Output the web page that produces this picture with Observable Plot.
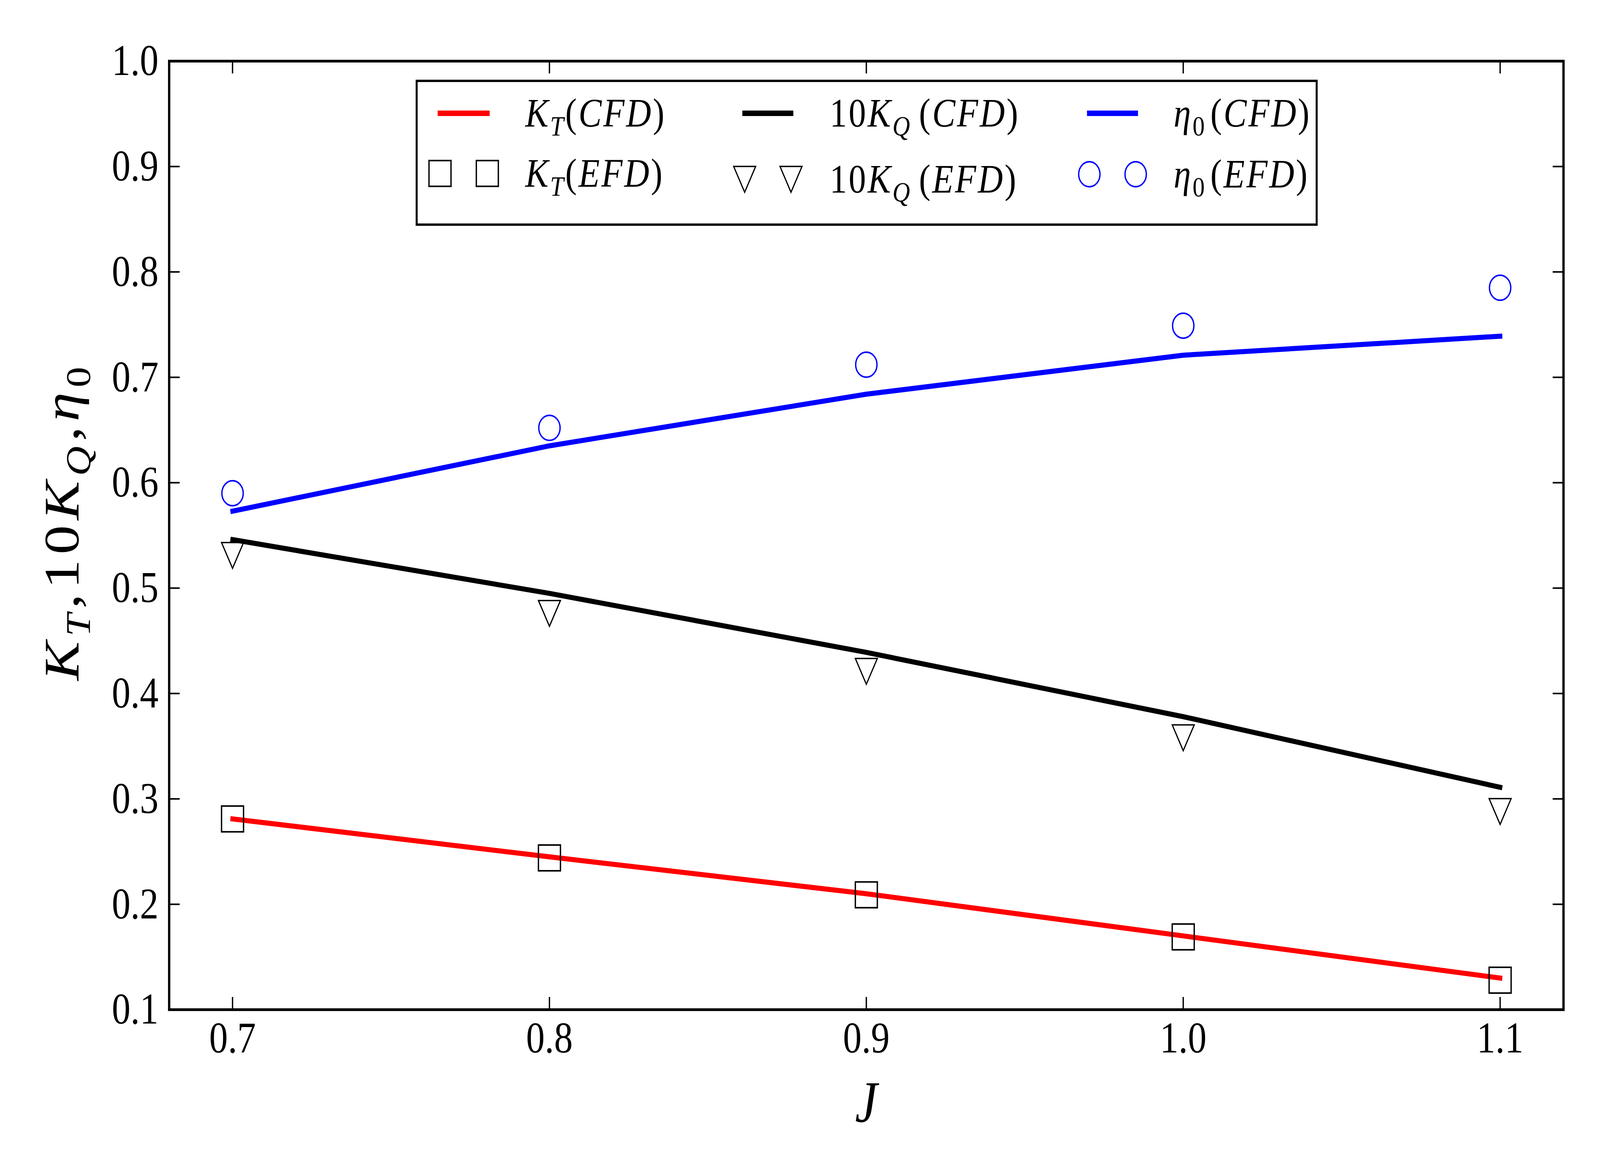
<!DOCTYPE html>
<html>
<head>
<meta charset="utf-8">
<script src="https://cdn.jsdelivr.net/npm/d3@7"></script>
<script src="https://cdn.jsdelivr.net/npm/@observablehq/plot@0.6"></script>
<style>
  html, body { margin: 0; padding: 0; background: #ffffff; overflow: hidden; width: 100%; height: 100%; }
  #chart { position: fixed; left: 0; top: 0; width: 100vw; height: 100vh; }
  #chart svg { display: block; width: 100vw !important; height: 100vh !important; max-width: none !important; }
</style>
</head>
<body>
<div id="chart"></div>
<script>
// ---------- data ----------
const J = [0.7, 0.8, 0.9, 1.0, 1.1];
const KT_CFD   = [0.281, 0.245, 0.210, 0.170, 0.130];
const KT_EFD   = [0.281, 0.244, 0.209, 0.169, 0.128];
const KQ10_CFD = [0.546, 0.495, 0.439, 0.378, 0.311];
const KQ10_EFD = [0.531, 0.476, 0.421, 0.358, 0.288];
const ETA_CFD  = [0.573, 0.635, 0.684, 0.721, 0.739];
const ETA_EFD  = [0.590, 0.652, 0.712, 0.749, 0.785];

const xTicks = [0.7, 0.8, 0.9, 1.0, 1.1];
const yTicks = [0.1, 0.2, 0.3, 0.4, 0.5, 0.6, 0.7, 0.8, 0.9, 1.0];
const xDomain = [0.68, 1.12];
const yDomain = [0.1, 1.0];

// ---------- layout ----------
const W = 4800, H = 3000;
const mL = 507, mR = 110, mT = 156, mB = 416;
const FONT = "'Liberation Serif', 'DejaVu Serif', serif";
const TICK_FS = 112;
const LABEL_FS = 150;
const LEG_FS = 104;
const TICK_LEN = 32;

const plotW = W - mL - mR, plotH = H - mT - mB;
const tickLenY = TICK_LEN * (yDomain[1] - yDomain[0]) / plotH;
const tickLenX = TICK_LEN * (xDomain[1] - xDomain[0]) / plotW;

// custom matplotlib-like symbols (size = pi r^2 -> half-width r)
const squareSym = { draw(ctx, size) { const h = Math.sqrt(size / Math.PI); ctx.rect(-h, -h, 2 * h, 2 * h); } };
const triDownSym = { draw(ctx, size) { const h = Math.sqrt(size / Math.PI); ctx.moveTo(0, h); ctx.lineTo(h, -h); ctx.lineTo(-h, -h); ctx.closePath(); } };

const lineStyle = { strokeWidth: 13, strokeLinecap: "square", strokeLinejoin: "round" };
const mk = { fill: "none", strokeWidth: 4 };

const svg = Plot.plot({
  width: W,
  height: H,
  marginLeft: mL, marginRight: mR, marginTop: mT, marginBottom: mB,
  style: { fontFamily: FONT, fontSize: TICK_FS + "px", background: "#ffffff", color: "black" },
  x: { domain: xDomain },
  y: { domain: yDomain },
  marks: [
    // inward ticks on all four sides
    Plot.ruleX(xTicks, { x: d => d, y1: yDomain[0], y2: yDomain[0] + tickLenY, stroke: "black", strokeWidth: 4 }),
    Plot.ruleX(xTicks, { x: d => d, y1: yDomain[1], y2: yDomain[1] - tickLenY, stroke: "black", strokeWidth: 4 }),
    Plot.ruleY(yTicks, { y: d => d, x1: xDomain[0], x2: xDomain[0] + tickLenX, stroke: "black", strokeWidth: 4 }),
    Plot.ruleY(yTicks, { y: d => d, x1: xDomain[1], x2: xDomain[1] - tickLenX, stroke: "black", strokeWidth: 4 }),
    // tick labels
    Plot.axisX({ ticks: xTicks, tickSize: 0, tickPadding: 30, tickFormat: d3.format(".1f"), fontSize: TICK_FS, fontFamily: FONT, label: null }),
    Plot.axisY({ ticks: yTicks, tickSize: 0, tickPadding: 32, tickFormat: d3.format(".1f"), fontSize: TICK_FS, fontFamily: FONT, label: null }),
    // CFD lines
    Plot.line(J, { x: J, y: KT_CFD, stroke: "#ff0000", ...lineStyle }),
    Plot.line(J, { x: J, y: KQ10_CFD, stroke: "#000000", ...lineStyle }),
    Plot.line(J, { x: J, y: ETA_CFD, stroke: "#0000ff", ...lineStyle }),
    // EFD markers
    Plot.dot(J, { x: J, y: KT_EFD, symbol: squareSym, r: 33, stroke: "#000000", ...mk }),
    Plot.dot(J, { x: J, y: KQ10_EFD, symbol: triDownSym, r: 33, stroke: "#000000", strokeWidth: 3.5, fill: "none" }),
    Plot.dot(J, { x: J, y: ETA_EFD, symbol: "circle", r: 32, stroke: "#0000ff", ...mk }),
    Plot.frame({ stroke: "black", strokeWidth: 7 })
  ]
});
svg.setAttribute("preserveAspectRatio", "none");
document.getElementById("chart").appendChild(svg);

// ---------- rich (math-like) text helper ----------
function mathText(parent, parts, fs, opts = {}) {
  const t = parent.append("text")
    .attr("x", 0).attr("y", 0)
    .attr("transform", opts.transform)
    .attr("font-family", FONT)
    .attr("font-size", fs)
    .attr("fill", "black")
    .attr("text-anchor", opts.anchor || "start");
  if (opts.spacing) t.attr("letter-spacing", opts.spacing);
  let shifted = 0;
  parts.forEach(p => {
    const s = t.append("tspan").text(p.t);
    if (p.i) s.attr("font-style", "italic");
    let dy = 0;
    if (p.sub) { s.attr("font-size", fs * 0.7); dy = fs * 0.22 - shifted; shifted = fs * 0.22; }
    else { dy = -shifted; shifted = 0; }
    if (dy) s.attr("dy", dy);
    if (p.dx) s.attr("dx", p.dx);
  });
  return t;
}

const root = d3.select(svg);

// axis labels
mathText(root, [{ t: "J", i: true }], LABEL_FS, { anchor: "middle", transform: `translate(${mL + plotW / 2},2872)` });
mathText(root, [
  { t: "K", i: true }, { t: "T", i: true, sub: true }, { t: "," },
  { t: "10" }, { t: "K", i: true }, { t: "Q", i: true, sub: true }, { t: "," },
  { t: "\u03B7", i: true }, { t: "0", sub: true }
], LABEL_FS, { anchor: "middle", spacing: 13, transform: `translate(236,1334) rotate(-90)` });

// ---------- legend ----------
const leg = root.append("g");
leg.append("rect").attr("x", 1250).attr("y", 207).attr("width", 2700).attr("height", 368)
  .attr("fill", "white").attr("stroke", "black").attr("stroke-width", 6);

const cols = [
  { m1: 1320, m2: 1462, tx: 1576, color: "#ff0000", sym: squareSym, mcolor: "#000000", rowShift: 0,
    cfd: [{ t: "K", i: true }, { t: "T", i: true, sub: true }, { t: "(" }, { t: "CFD", i: true }, { t: ")" }],
    efd: [{ t: "K", i: true }, { t: "T", i: true, sub: true }, { t: "(" }, { t: "EFD", i: true }, { t: ")" }] },
  { m1: 2234, m2: 2373, tx: 2489, color: "#000000", sym: triDownSym, mcolor: "#000000", rowShift: 15,
    cfd: [{ t: "10" }, { t: "K", i: true }, { t: "Q", i: true, sub: true }, { t: "(", dx: 22 }, { t: "CFD", i: true }, { t: ")" }],
    efd: [{ t: "10" }, { t: "K", i: true }, { t: "Q", i: true, sub: true }, { t: "(", dx: 22 }, { t: "EFD", i: true }, { t: ")" }] },
  { m1: 3268, m2: 3407, tx: 3521, color: "#0000ff", sym: "circle", mcolor: "#0000ff", rowShift: 2,
    cfd: [{ t: "\u03B7", i: true }, { t: "0", sub: true }, { t: "(", dx: 12 }, { t: "CFD", i: true }, { t: ")" }],
    efd: [{ t: "\u03B7", i: true }, { t: "0", sub: true }, { t: "(", dx: 12 }, { t: "EFD", i: true }, { t: ")" }] }
];
const row1Y = 290, row1Base = 324, row2Y = 444, row2Base = 478;
cols.forEach(c => {
  leg.append("line").attr("x1", c.m1).attr("x2", c.m2).attr("y1", row1Y).attr("y2", row1Y)
    .attr("stroke", c.color).attr("stroke-width", 14).attr("stroke-linecap", "square");
  mathText(leg, c.cfd, LEG_FS, { spacing: 5, transform: `translate(${c.tx},${row1Base})` });
  const symGen = c.sym === "circle" ? d3.symbol(d3.symbolCircle, Math.PI * 32 * 32) : d3.symbol(c.sym, Math.PI * 33 * 33);
  [c.m1, c.m2].forEach(mx => {
    leg.append("path").attr("d", symGen()).attr("transform", `translate(${mx},${row2Y + c.rowShift})`)
      .attr("fill", "none").attr("stroke", c.mcolor).attr("stroke-width", c.sym === triDownSym ? 3.5 : 4);
  });
  mathText(leg, c.efd, LEG_FS, { spacing: 5, transform: `translate(${c.tx},${row2Base + c.rowShift})` });
});
</script>
</body>
</html>
